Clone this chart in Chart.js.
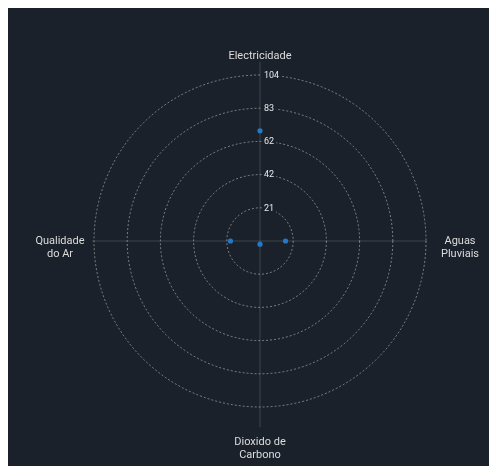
<!DOCTYPE html>
<html>
<head>
<meta charset="utf-8">
<script src="https://cdn.jsdelivr.net/npm/chart.js@4"></script>
<style>
  body { margin: 8px; background: #ffffff; overflow: hidden; }
  #wrap { width: 489px; height: 458px; background: #1b212a; }
</style>
</head>
<body>
<div id="wrap"><canvas id="chart" width="489" height="458"></canvas></div>
<script>
const categories = [["Electricidade"], ["Aguas", "Pluviais"], ["Dioxido de", "Carbono"], ["Qualidade", "do Ar"]];
const values = [69, 16, 2, 18.5];
const scaleMax = 104;
const tickStep = 20.8;

const BG = '#1b212a';

// Axis spokes, tick labels beside the vertical spoke, and centred category labels.
const radarDecor = {
  id: 'radarDecor',
  beforeDatasetsDraw(chart) {
    const r = chart.scales.r;
    const ctx = chart.ctx;
    const R = r.drawingArea;
    const spokeExtra = [13, 1, 20, 2];
    ctx.save();
    ctx.strokeStyle = 'rgba(255,255,255,0.16)';
    ctx.lineWidth = 1;
    categories.forEach((_, i) => {
      const p = r.getPointPosition(i, R + spokeExtra[i]);
      ctx.beginPath();
      ctx.moveTo(r.xCenter, r.yCenter);
      ctx.lineTo(p.x, p.y);
      ctx.stroke();
    });

    ctx.font = '9px Roboto';
    ctx.textAlign = 'left';
    ctx.textBaseline = 'middle';
    r.ticks.forEach((t, i) => {
      if (i === 0) return;
      const d = r.getDistanceFromCenterForValue(t.value);
      const label = String(Math.round(t.value));
      const w = ctx.measureText(label).width;
      const x = r.xCenter + 4;
      const y = r.yCenter - d;
      ctx.fillStyle = BG;
      ctx.fillRect(x - 2, y - 5, w + 4, 10);
      ctx.fillStyle = '#e8e8e8';
      ctx.fillText(label, x, y + 0.5);
    });
    ctx.restore();
  },
  afterDraw(chart) {
    const r = chart.scales.r;
    const ctx = chart.ctx;
    const R = r.drawingArea;
    const labelGap = [19, 34, 35, 34];
    const lineH = 13;
    ctx.save();
    ctx.font = '11px Roboto';
    ctx.fillStyle = '#dcdcdc';
    ctx.textAlign = 'center';
    ctx.textBaseline = 'middle';
    categories.forEach((lines, i) => {
      const p = r.getPointPosition(i, R + labelGap[i]);
      lines.forEach((s, k) => ctx.fillText(s, p.x, p.y + k * lineH));
    });
    ctx.restore();
  }
};

new Chart(document.getElementById('chart'), {
  type: 'radar',
  data: {
    labels: categories,
    datasets: [{
      data: values,
      borderWidth: 0,
      borderColor: 'rgba(0,0,0,0)',
      backgroundColor: 'rgba(0,0,0,0)',
      pointBackgroundColor: '#2479c6',
      pointBorderColor: '#2479c6',
      pointRadius: 2.6,
      pointBorderWidth: 0
    }]
  },
  plugins: [radarDecor],
  options: {
    responsive: false,
    animation: false,
    layout: { padding: { left: 77, right: 62, top: 67, bottom: 59 } },
    plugins: { legend: { display: false }, tooltip: { enabled: false } },
    scales: {
      r: {
        min: 0,
        max: scaleMax,
        ticks: { stepSize: tickStep, display: false },
        grid: {
          circular: true,
          color: 'rgba(255,255,255,0.42)',
          lineWidth: 1
        },
        border: { dash: [2, 2] },
        angleLines: { display: false },
        pointLabels: { display: false }
      }
    }
  }
});
</script>
</body>
</html>
